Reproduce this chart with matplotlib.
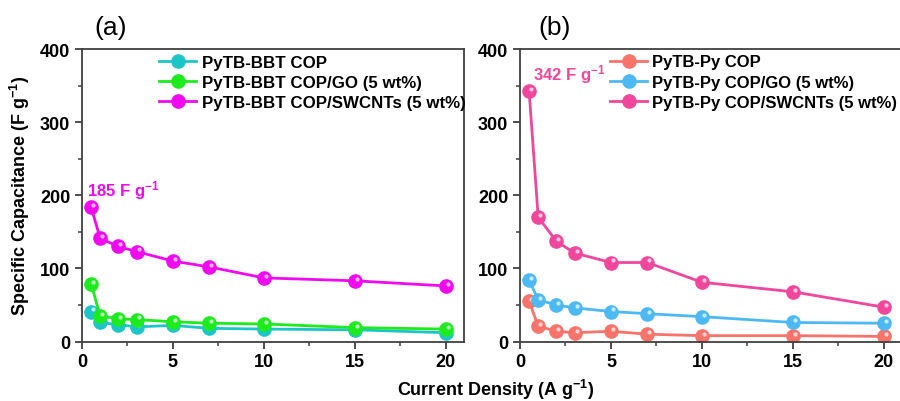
import matplotlib.pyplot as plt
import matplotlib.transforms as mtransforms

plt.rcParams['font.family'] = ['Liberation Sans', 'DejaVu Sans']
plt.rcParams['font.weight'] = 'bold'
plt.rcParams['mathtext.default'] = 'regular'

current = [0.5, 1, 2, 3, 5, 7, 10, 15, 20]

# panel (a)
bbt_cop = [41, 26, 23, 20, 22, 18, 17, 16, 12]
bbt_go = [79, 35, 31, 30, 27, 25, 24, 19, 17]
bbt_swcnt = [184, 141, 130, 123, 110, 102, 87, 83, 76]
labels_a = ['PyTB-BBT COP', 'PyTB-BBT COP/GO (5 wt%)', 'PyTB-BBT COP/SWCNTs (5 wt%)']
colors_a = ['#1CC6C8', '#1EEB1E', '#F00AF0']

# panel (b)
py_cop = [55, 21, 14, 12, 14, 10, 8, 8, 7]
py_go = [84, 57, 50, 46, 41, 38, 34, 26, 25]
py_swcnt = [342, 170, 137, 121, 108, 108, 81, 68, 47]
labels_b = ['PyTB-Py COP', 'PyTB-Py COP/GO (5 wt%)', 'PyTB-Py COP/SWCNTs (5 wt%)']
colors_b = ['#F8736A', '#4DB9F2', '#F0479C']

fig = plt.figure(figsize=(9, 4.02), dpi=100)
ax1 = fig.add_axes([0.0911, 0.148, 0.4244, 0.7276])
ax2 = fig.add_axes([0.5778, 0.148, 0.4244, 0.7276])


def draw(ax, series, labels, colors):
    for ys, lab, c in zip(series, labels, colors):
        ax.plot(current, ys, '-o', color=c, lw=2, ms=9.5, mec=c, label=lab)
        # little highlight to mimic the shaded spheres
        hl = mtransforms.offset_copy(ax.transData, fig=fig, x=1.5, y=1.5, units='points')
        ax.plot(current, ys, 'o', color='white', ms=3, alpha=0.7, mec='none',
                transform=hl)
    ax.set_xlim(0, 21)
    ax.set_ylim(0, 400)
    ax.set_xticks([0, 5, 10, 15, 20])
    ax.set_xticks([2.5, 7.5, 12.5, 17.5], minor=True)
    ax.set_yticks([0, 100, 200, 300, 400])
    ax.set_yticks([50, 150, 250, 350], minor=True)
    for s in ax.spines.values():
        s.set_linewidth(1.3)
        s.set_color('#404040')
    ax.tick_params(which='major', direction='out', length=5, width=1.3,
                   labelsize=13, color='#404040')
    ax.tick_params(which='minor', direction='out', length=3, width=1.1,
                   color='#404040')
    for t in ax.get_xticklabels() + ax.get_yticklabels():
        t.set_fontweight('bold')


draw(ax1, [bbt_cop, bbt_go, bbt_swcnt], labels_a, colors_a)
draw(ax2, [py_cop, py_go, py_swcnt], labels_b, colors_b)

ax1.legend(loc='upper left', bbox_to_anchor=(0.18, 1.01),
           prop={'weight': 'bold', 'size': 12.2}, frameon=False,
           handlelength=2.2, handletextpad=0.3, labelspacing=0.32,
           borderpad=0.3, borderaxespad=0.2)

ax2.legend(loc='upper left', bbox_to_anchor=(0.215, 1.01),
           prop={'weight': 'bold', 'size': 12.0}, frameon=False,
           handlelength=2.2, handletextpad=0.3, labelspacing=0.32,
           borderpad=0.3, borderaxespad=0.2)

ax1.text(0.3, 200, '185 F g$^{-1}$', color='#F00AF0', fontsize=12,
         fontweight='bold')
ax2.text(0.7, 358, '342 F g$^{-1}$', color='#F0479C', fontsize=12,
         fontweight='bold')

ax1.set_ylabel('Specific Capacitance (F g$^{-1}$)', fontsize=13,
               fontweight='bold', labelpad=6)
fig.text(0.551, 0.0, 'Current Density (A g$^{-1}$)', ha='center',
         va='bottom', fontsize=13, fontweight='bold')

fig.text(0.105, 0.93, '(a)', fontsize=19, fontweight='normal', va='center')
fig.text(0.598, 0.93, '(b)', fontsize=19, fontweight='normal', va='center')

fig.savefig('out.png', dpi=100)
